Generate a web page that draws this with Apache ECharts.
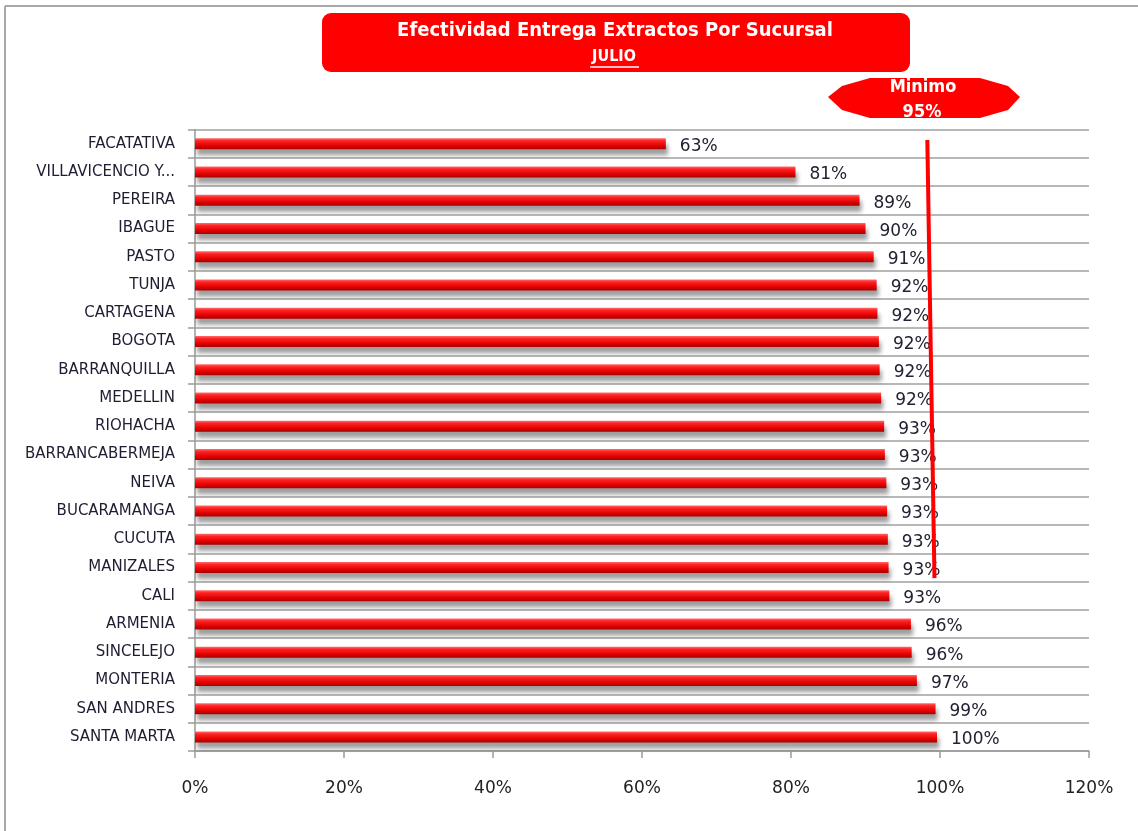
<!DOCTYPE html>
<html>
<head>
<meta charset="utf-8">
<title>Efectividad Entrega Extractos Por Sucursal</title>
<script src="https://cdn.jsdelivr.net/npm/echarts@6/dist/echarts.min.js"></script>
<style>
  html, body { margin: 0; padding: 0; background: #ffffff; }
  #chart { width: 1138px; height: 831px; }
</style>
</head>
<body>
<div id="chart"></div>
<script>
// Branches, top to bottom
const sucursales = [
  'FACATATIVA', 'VILLAVICENCIO Y...', 'PEREIRA', 'IBAGUE', 'PASTO', 'TUNJA',
  'CARTAGENA', 'BOGOTA', 'BARRANQUILLA', 'MEDELLIN', 'RIOHACHA', 'BARRANCABERMEJA',
  'NEIVA', 'BUCARAMANGA', 'CUCUTA', 'MANIZALES', 'CALI', 'ARMENIA', 'SINCELEJO',
  'MONTERIA', 'SAN ANDRES', 'SANTA MARTA'
];

// Delivery effectiveness per branch (%)
const efectividad = [
  63.2, 80.6, 89.2, 90.0, 91.1, 91.5,
  91.6, 91.8, 91.9, 92.1, 92.5, 92.6,
  92.8, 92.9, 93.0, 93.1, 93.2, 96.1, 96.2,
  96.9, 99.4, 99.6
];

// Hand-drawn "Minimo" marker: [percent, row position from the top in band units]
const lineaMinimo = [[98.3, 0.37], [99.26, 15.88]];

const xTicks = { min: 0, max: 120, step: 20 };
const titulo = 'Efectividad Entrega Extractos Por Sucursal';
const mes = 'JULIO';
const minimoTexto = ['Minimo', '95%'];

const chart = echarts.init(document.getElementById('chart'), null, { renderer: 'canvas' });

const fontCat = 'DejaVu Sans';
const red = '#ff0000';

const barGradient = new echarts.graphic.LinearGradient(0, 0, 0, 1, [
  { offset: 0, color: '#ff7070' },
  { offset: 0.25, color: '#ff2222' },
  { offset: 0.7, color: '#e00000' },
  { offset: 1, color: '#a80000' }
]);

chart.setOption({
  animation: false,
  backgroundColor: '#ffffff',
  grid: { left: 195, right: 49, top: 129.5, bottom: 80, containLabel: false },
  xAxis: {
    type: 'value',
    min: xTicks.min, max: xTicks.max, interval: xTicks.step,
    axisLine: { show: true, onZero: false, lineStyle: { color: '#9a9a9a', width: 1.5 } },
    axisTick: { show: true, length: 7, lineStyle: { color: '#9a9a9a', width: 1.5 } },
    splitLine: { show: false },
    axisLabel: {
      formatter: '{value}%', margin: 29,
      fontFamily: fontCat, fontSize: 17, color: '#222222'
    }
  },
  yAxis: [
    {
      type: 'category',
      data: sucursales,
      inverse: true,
      axisLine: { show: true, lineStyle: { color: '#9a9a9a', width: 1.5 } },
      axisTick: { show: true, length: 7, lineStyle: { color: '#9a9a9a', width: 1.5 } },
      splitLine: { show: true, lineStyle: { color: '#a0a0a0', width: 1.5 } },
      axisLabel: {
        margin: 20, fontFamily: fontCat, fontSize: 15, color: '#1e1e33'
      }
    },
    {
      type: 'value',
      min: 0, max: sucursales.length, inverse: true,
      show: false
    }
  ],
  series: [
    {
      type: 'bar',
      data: efectividad,
      barWidth: 11,
      itemStyle: {
        color: barGradient,
        shadowColor: 'rgba(0,0,0,0.38)',
        shadowBlur: 4,
        shadowOffsetX: 2,
        shadowOffsetY: 6
      },
      label: {
        show: true,
        position: 'right',
        distance: 14,
        offset: [0, 3],
        fontFamily: fontCat,
        fontSize: 17,
        color: '#222233',
        formatter: p => Math.round(p.value) + '%'
      },
      z: 2
    },
    {
      type: 'line',
      yAxisIndex: 1,
      data: lineaMinimo,
      symbol: 'none',
      silent: true,
      lineStyle: { color: red, width: 4 },
      z: 5
    }
  ],
  graphic: [
    // chart frame (top and left edges)
    { type: 'line', shape: { x1: 5, y1: 6, x2: 1138, y2: 6 },
      style: { stroke: '#a8a8a8', lineWidth: 2 } },
    { type: 'line', shape: { x1: 5, y1: 6, x2: 5, y2: 831 },
      style: { stroke: '#a8a8a8', lineWidth: 2 } },
    // title banner
    { type: 'rect', shape: { x: 322, y: 13, width: 588, height: 59, r: 9 },
      style: { fill: red } },
    { type: 'text', x: 615, y: 31,
      style: { text: titulo, fill: '#ffffff', font: 'bold 20px "DejaVu Sans Condensed", "Liberation Sans Narrow", sans-serif',
        align: 'center', verticalAlign: 'middle' } },
    { type: 'text', x: 614, y: 57,
      style: { text: mes, fill: '#ffffff', font: 'bold 16px "DejaVu Sans Condensed", sans-serif',
        align: 'center', verticalAlign: 'middle' } },
    { type: 'line', shape: { x1: 590, y1: 67, x2: 639, y2: 67 },
      style: { stroke: '#ffffff', lineWidth: 1.3 } },
    // "Minimo" callout
    { type: 'polygon', shape: { points: [
        [870, 78], [980, 78], [1008, 86], [1020, 97], [1008, 110], [980, 118],
        [870, 118], [842, 110], [828, 97], [842, 86]
      ] },
      style: { fill: red } },
    { type: 'text', x: 923, y: 87,
      style: { text: minimoTexto[0], fill: '#ffffff', font: 'bold 18px "DejaVu Sans Condensed", sans-serif',
        align: 'center', verticalAlign: 'middle' } },
    { type: 'text', x: 922, y: 112,
      style: { text: minimoTexto[1], fill: '#ffffff', font: 'bold 18px "DejaVu Sans Condensed", sans-serif',
        align: 'center', verticalAlign: 'middle' } }
  ]
});
</script>
</body>
</html>
